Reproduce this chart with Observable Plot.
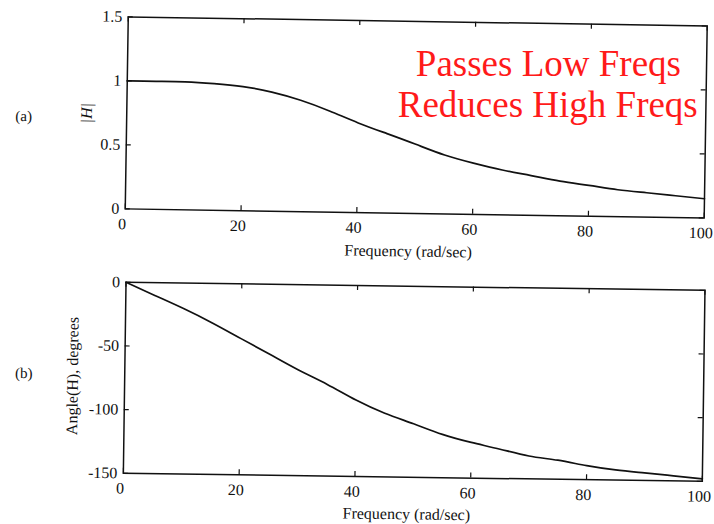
<!DOCTYPE html>
<html>
<head>
<meta charset="utf-8">
<script src="https://cdn.jsdelivr.net/npm/d3@7"></script>
<script src="https://cdn.jsdelivr.net/npm/@observablehq/plot@0.6"></script>
<style>
  body { margin: 0; background: #fff; }
  #wrap { width: 714px; height: 524px; position: relative; overflow: hidden; background: #fff; }
  .panel { position: absolute; left: 0; width: 714px; height: 262px; }
  .panel svg { overflow: visible; }
  /* the printed page sits slightly askew */
  #pa { top: 0; transform: rotate(0.9deg); }
  #pb { top: 262px; transform: rotate(0.8deg); }
</style>
</head>
<body>
<div id="wrap">
  <div class="panel" id="pa"></div>
  <div class="panel" id="pb"></div>
</div>
<script>
// Frequency response of a low-pass filter
const frequency = [0, 5, 10, 15, 20, 25, 30, 35, 40, 45, 50, 55, 60, 65, 70, 75, 80, 85, 90, 95, 100];
const magnitude = [1.00, 1.00, 1.00, 0.99, 0.97, 0.93, 0.87, 0.79, 0.70, 0.62, 0.54, 0.46, 0.40, 0.35, 0.31, 0.27, 0.24, 0.21, 0.19, 0.17, 0.15];
const phaseDeg  = [0, -10, -20, -31, -43, -55, -67, -78, -90, -100, -108, -116, -122, -127, -132, -135, -139, -142, -144, -146, -148];

const freqTicks = [0, 20, 40, 60, 80, 100];
const magTicks = [0, 0.5, 1, 1.5];
const phaseTicks = [-150, -100, -50, 0];

const xLabel = "Frequency (rad/sec)";
const notes = ["Passes Low Freqs", "Reduces High Freqs"];

const font = "'Liberation Serif', 'Times New Roman', serif";
const W = 714, H = 262;

function panel({y, yDomain, yTicks, yLabel, yLabelItalic, tag, margin, tagDy, yLabelDx, yLabelDy, xLabelDy, extra = []}) {
  const [mt, mr, mb, ml] = margin;
  const fw = W - ml - mr, fh = H - mt - mb;
  const rows = frequency.map((f, i) => ({f, v: y[i]}));
  return Plot.plot({
    width: W,
    height: H,
    marginTop: mt, marginRight: mr, marginBottom: mb, marginLeft: ml,
    style: {fontFamily: font, fontSize: "16px", background: "#fff", color: "#111", overflow: "visible"},
    x: {domain: [0, 100], axis: null},
    y: {domain: yDomain, axis: null},
    marks: [
      // inward tick marks on all four sides
      Plot.ruleX(freqTicks, {x: d => d, insetTop: fh - 5, stroke: "#111", strokeWidth: 1.2}),
      Plot.ruleX(freqTicks, {x: d => d, insetBottom: fh - 5, stroke: "#111", strokeWidth: 1.2}),
      Plot.ruleY(yTicks, {y: d => d, insetRight: fw - 5, stroke: "#111", strokeWidth: 1.2}),
      Plot.ruleY(yTicks, {y: d => d, insetLeft: fw - 5, stroke: "#111", strokeWidth: 1.2}),
      Plot.axisX(freqTicks, {tickSize: 0, tickPadding: 9, dx: -3, label: null, tickFormat: d => String(d), fill: "#111"}),
      Plot.axisY(yTicks, {tickSize: 0, tickPadding: 6, label: null, tickFormat: d => String(d), fill: "#111"}),
      Plot.frame({stroke: "#111", strokeWidth: 1.5}),
      Plot.line(rows, {x: "f", y: "v", stroke: "#111", strokeWidth: 1.7, curve: "natural"}),
      Plot.text([xLabel], {frameAnchor: "bottom", dy: xLabelDy, dx: -6, textAnchor: "middle", lineAnchor: "middle", fill: "#111"}),
      Plot.text([yLabel], {frameAnchor: "left", dx: yLabelDx, dy: yLabelDy, rotate: -90, textAnchor: "middle", lineAnchor: "middle", fontStyle: yLabelItalic ? "italic" : "normal", fill: "#111"}),
      Plot.text([tag], {frameAnchor: "left", dx: -ml + 23, dy: tagDy, textAnchor: "middle", lineAnchor: "middle", fontSize: 15, fill: "#111"}),
      ...extra
    ]
  });
}

document.getElementById("pa").append(panel({
  y: magnitude,
  yDomain: [0, 1.5],
  yTicks: magTicks,
  yLabel: "|H|",
  yLabelItalic: true,
  tag: "(a)",
  margin: [20, 9, 50, 126],
  tagDy: 5,
  yLabelDx: -40,
  yLabelDy: 1,
  xLabelDy: 38,
  extra: [
    Plot.text([notes[0]], {frameAnchor: "top-left", dx: 421, dy: 53, textAnchor: "middle", lineAnchor: "bottom", rotate: -0.9, fontSize: 37, fill: "#ff1a1a"}),
    Plot.text([notes[1]], {frameAnchor: "top-left", dx: 421, dy: 94, textAnchor: "middle", lineAnchor: "bottom", rotate: -0.9, fontSize: 37, fill: "#ff1a1a"})
  ]
}));

document.getElementById("pb").append(panel({
  y: phaseDeg,
  yDomain: [-150, 0],
  yTicks: phaseTicks,
  yLabel: "Angle(H), degrees",
  yLabelItalic: false,
  tag: "(b)",
  margin: [23, 11, 48, 124],
  tagDy: -3,
  yLabelDx: -52,
  yLabelDy: -1,
  xLabelDy: 37
}));
</script>
</body>
</html>
